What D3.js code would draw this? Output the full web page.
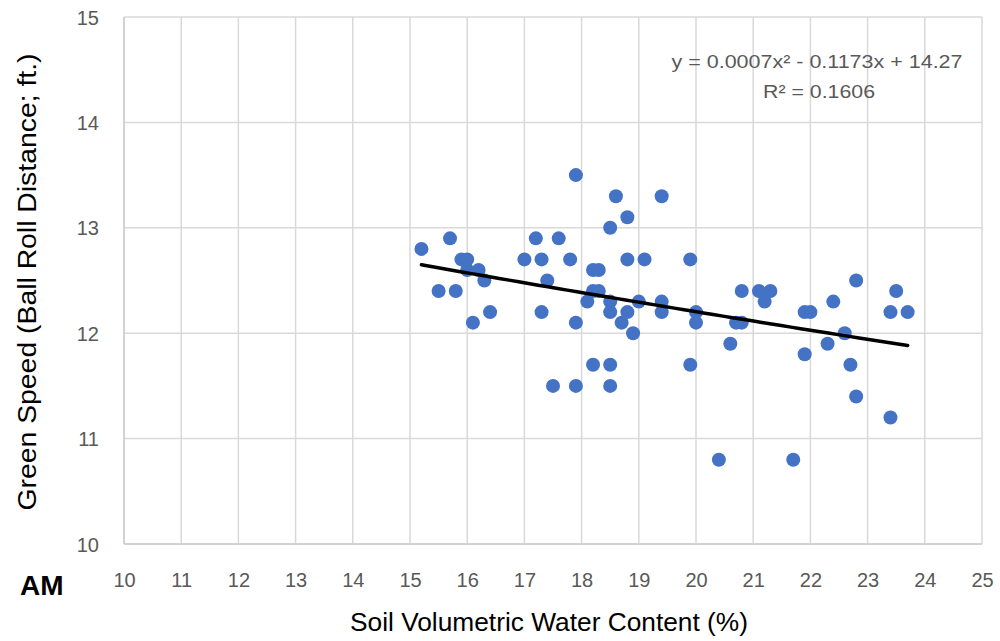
<!DOCTYPE html>
<html>
<head>
<meta charset="utf-8">
<script src="https://cdn.jsdelivr.net/npm/d3@7"></script>
<style>
  html, body { margin: 0; padding: 0; background: #ffffff; }
  svg { display: block; }
  text { font-family: "Liberation Sans", Arial, sans-serif; }
</style>
</head>
<body>
<svg id="chart" width="1000" height="641"></svg>
<script>
// Soil volumetric water content (%) for each morning reading
const waterContent = [
  15.2, 15.5, 15.7, 15.8, 15.9, 16.0, 16.0, 16.2, 16.3, 16.1,
  16.4, 17.0, 17.2, 17.3, 17.6, 17.4, 17.3, 17.8, 17.9, 17.9,
  17.5, 17.9, 18.2, 18.3, 18.2, 18.3, 18.1, 18.2, 18.5, 18.5,
  18.5, 18.6, 18.8, 18.8, 19.1, 18.5, 18.5, 18.8, 18.7, 18.9,
  19.0, 19.4, 19.4, 19.4, 19.9, 19.9, 20.0, 20.0, 20.4, 20.6,
  20.7, 20.8, 20.8, 21.1, 21.3, 21.2, 21.7, 21.9, 22.0, 21.9,
  22.4, 22.3, 22.6, 22.8, 22.7, 22.8, 23.4, 23.5, 23.4, 23.7
];

// Green speed (ball roll distance, ft.) for the same readings
const greenSpeed = [
  12.8, 12.4, 12.9, 12.4, 12.7, 12.7, 12.6, 12.6, 12.5, 12.1,
  12.2, 12.7, 12.9, 12.7, 12.9, 12.5, 12.2, 12.7, 13.5, 12.1,
  11.5, 11.5, 12.6, 12.6, 12.4, 12.4, 12.3, 11.7, 11.7, 11.5,
  13.0, 13.3, 13.1, 12.7, 12.7, 12.3, 12.2, 12.2, 12.1, 12.0,
  12.3, 13.3, 12.3, 12.2, 12.7, 11.7, 12.2, 12.1, 10.8, 11.9,
  12.1, 12.1, 12.4, 12.4, 12.4, 12.3, 10.8, 12.2, 12.2, 11.8,
  12.3, 11.9, 12.0, 12.5, 11.7, 11.4, 11.2, 12.4, 12.2, 12.2
];

const xTicks = [10, 11, 12, 13, 14, 15, 16, 17, 18, 19, 20, 21, 22, 23, 24, 25];
const yTicks = [10, 11, 12, 13, 14, 15];

// Polynomial (order 2) trendline coefficients: y = a x^2 + b x + c
const trendCoef = [0.0007, -0.1173, 14.27];
const trendLabel = "y = 0.0007x\u00B2 - 0.1173x + 14.27";
const r2Label = "R\u00B2 = 0.1606";

const svg = d3.select("#chart");
const margin = { left: 124, right: 18, top: 17, bottom: 97 };
const W = 1000, H = 641;

const x = d3.scaleLinear().domain([10, 25]).range([margin.left, W - margin.right]);
const y = d3.scaleLinear().domain([10, 15]).range([H - margin.bottom, margin.top]);

const gridColor = "#d9d9d9";
const labelColor = "#595959";

// Gridlines
svg.append("g")
  .selectAll("line")
  .data(xTicks)
  .join("line")
  .attr("x1", d => x(d)).attr("x2", d => x(d))
  .attr("y1", y(15)).attr("y2", y(10))
  .attr("stroke", gridColor).attr("stroke-width", 1.5);

svg.append("g")
  .selectAll("line")
  .data(yTicks)
  .join("line")
  .attr("x1", x(10)).attr("x2", x(25))
  .attr("y1", d => y(d)).attr("y2", d => y(d))
  .attr("stroke", gridColor).attr("stroke-width", 1.5);

// Axis baselines
svg.append("line")
  .attr("x1", x(10)).attr("x2", x(25)).attr("y1", y(10)).attr("y2", y(10))
  .attr("stroke", "#cccccc").attr("stroke-width", 1.5);
svg.append("line")
  .attr("x1", x(10)).attr("x2", x(10)).attr("y1", y(15)).attr("y2", y(10))
  .attr("stroke", "#cccccc").attr("stroke-width", 1.5);

// Tick labels
const xAxis = d3.axisBottom(x).tickValues(xTicks).tickSize(0).tickPadding(0).tickFormat(d3.format("d"));
const gx = svg.append("g").attr("transform", `translate(0,${y(10)})`).call(xAxis);
gx.select(".domain").remove();
gx.selectAll("text")
  .attr("dy", null).attr("y", 43)
  .attr("fill", labelColor).attr("font-size", 20)
  .style("font-family", "'Liberation Sans', Arial, sans-serif");

const yAxis = d3.axisLeft(y).tickValues(yTicks).tickSize(0).tickPadding(0).tickFormat(d3.format("d"));
const gy = svg.append("g").attr("transform", `translate(${x(10)},0)`).call(yAxis);
gy.select(".domain").remove();
gy.selectAll("text")
  .attr("x", -25).attr("dy", "0.35em")
  .attr("fill", labelColor).attr("font-size", 20)
  .style("font-family", "'Liberation Sans', Arial, sans-serif");

// Data points
svg.append("g")
  .selectAll("circle")
  .data(waterContent.map((v, i) => [v, greenSpeed[i]]))
  .join("circle")
  .attr("cx", d => x(d[0]))
  .attr("cy", d => y(d[1]))
  .attr("r", 7)
  .attr("fill", "#4472C4");

// Trendline over the range of the data
const xMin = d3.min(waterContent), xMax = d3.max(waterContent);
const trendPts = d3.range(0, 51).map(i => {
  const xv = xMin + (xMax - xMin) * i / 50;
  return [xv, trendCoef[0] * xv * xv + trendCoef[1] * xv + trendCoef[2]];
});
svg.append("path")
  .datum(trendPts)
  .attr("d", d3.line().x(d => x(d[0])).y(d => y(d[1])))
  .attr("fill", "none")
  .attr("stroke", "#000000")
  .attr("stroke-width", 3.5)
  .attr("stroke-linecap", "round");

// Trendline equation
svg.append("text")
  .attr("x", 817).attr("y", 68)
  .attr("text-anchor", "middle")
  .attr("fill", labelColor).attr("font-size", 19)
  .attr("textLength", 291).attr("lengthAdjust", "spacingAndGlyphs")
  .text(trendLabel);
svg.append("text")
  .attr("x", 819).attr("y", 98)
  .attr("text-anchor", "middle")
  .attr("fill", labelColor).attr("font-size", 19)
  .attr("textLength", 112).attr("lengthAdjust", "spacingAndGlyphs")
  .text(r2Label);

// Axis titles
svg.append("text")
  .attr("x", 549).attr("y", 631)
  .attr("text-anchor", "middle")
  .attr("fill", "#000000").attr("font-size", 25)
  .attr("textLength", 398).attr("lengthAdjust", "spacingAndGlyphs")
  .text("Soil Volumetric Water Content (%)");

svg.append("text")
  .attr("transform", "translate(36,282) rotate(-90)")
  .attr("text-anchor", "middle")
  .attr("fill", "#000000").attr("font-size", 25)
  .attr("textLength", 457).attr("lengthAdjust", "spacingAndGlyphs")
  .text("Green Speed (Ball Roll Distance; ft.)");

// Session tag
svg.append("text")
  .attr("x", 20).attr("y", 595)
  .attr("fill", "#000000").attr("font-size", 28).attr("font-weight", "bold")
  .text("AM");
</script>
</body>
</html>
